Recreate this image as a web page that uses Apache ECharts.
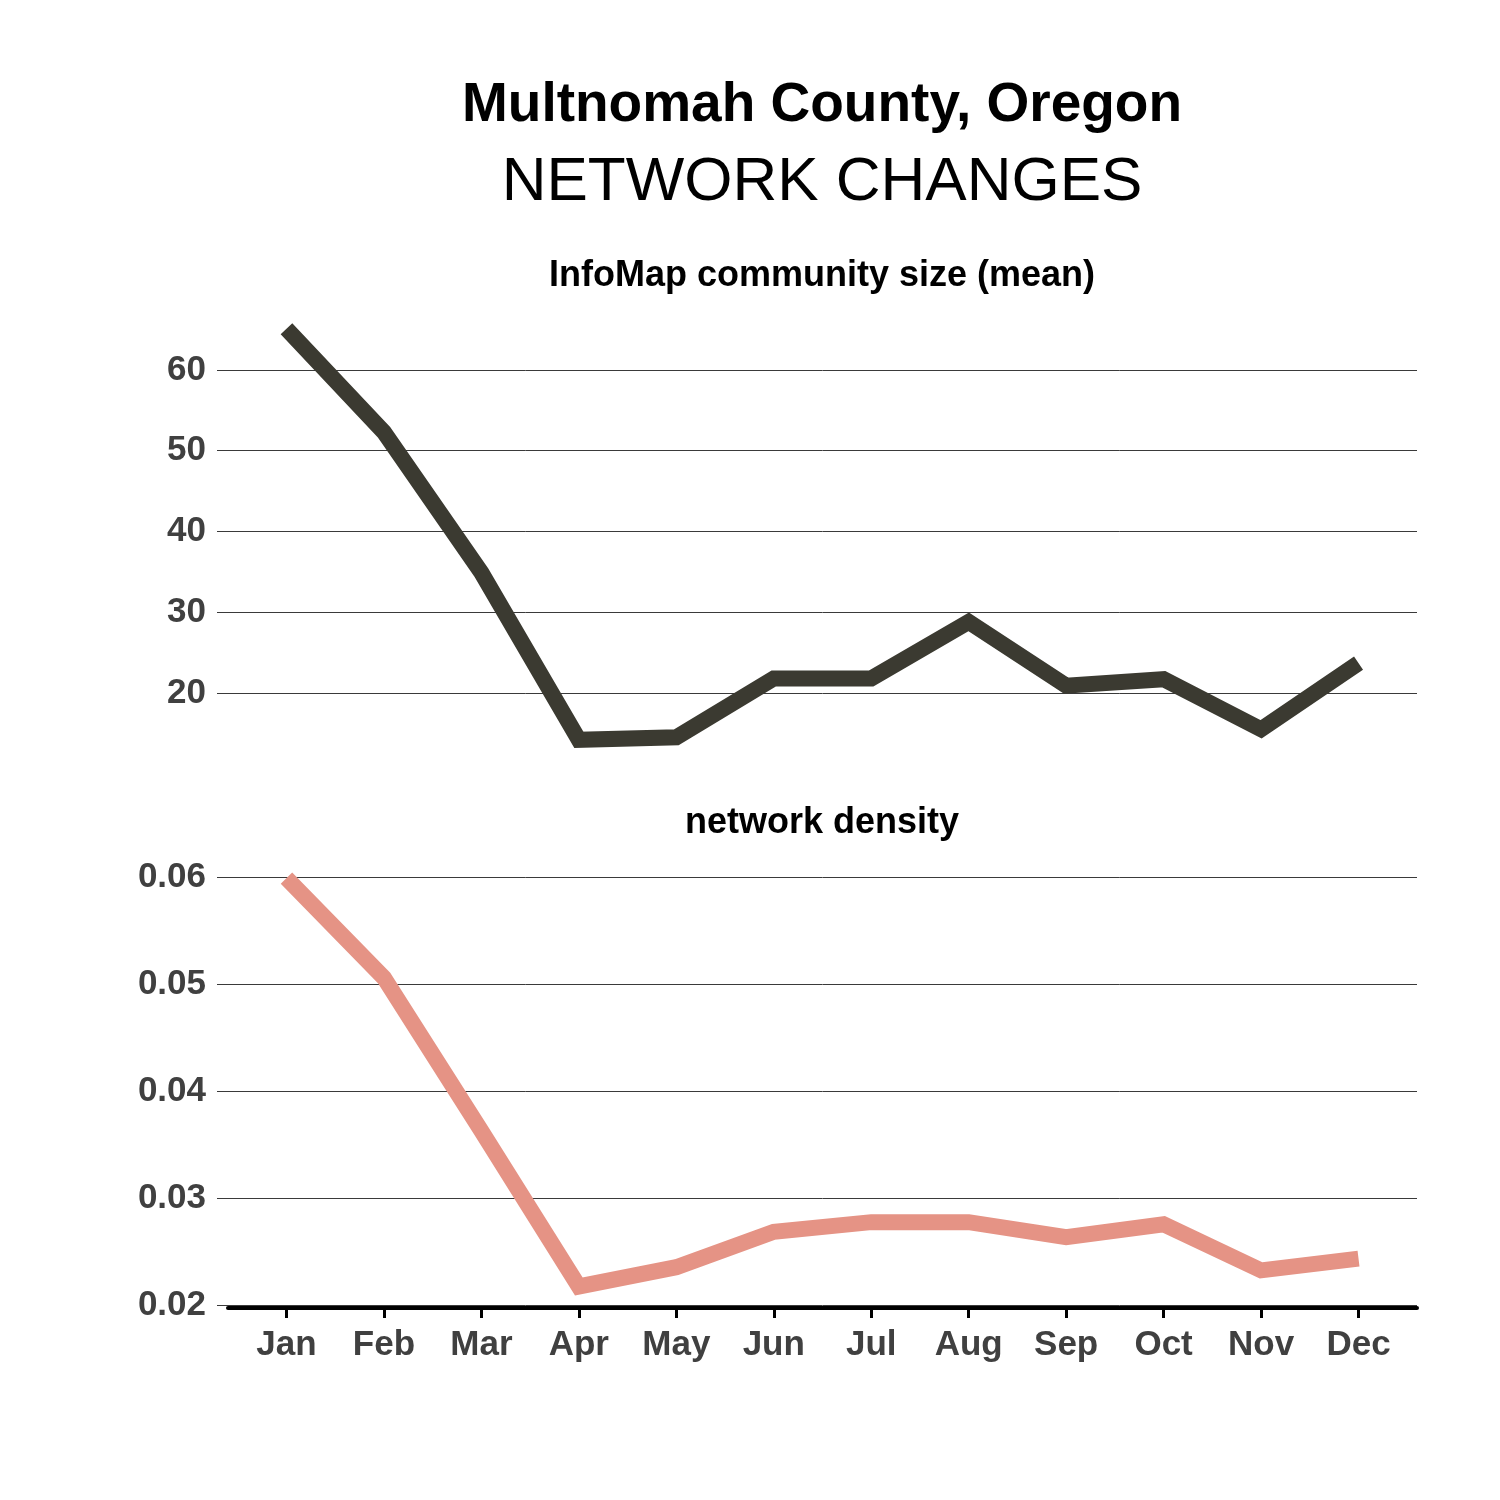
<!DOCTYPE html>
<html>
<head>
<meta charset="utf-8">
<script src="https://cdn.jsdelivr.net/npm/echarts@6/dist/echarts.min.js"></script>
<style>
  html, body { margin: 0; padding: 0; background: #ffffff; }
  #chart { width: 1500px; height: 1500px; }
</style>
</head>
<body>
<div id="chart"></div>
<script>
// ---- data ----
const months = ['Jan', 'Feb', 'Mar', 'Apr', 'May', 'Jun', 'Jul', 'Aug', 'Sep', 'Oct', 'Nov', 'Dec'];
const communitySize = [65.1, 52.3, 34.9, 14.2, 14.5, 21.8, 21.8, 28.8, 20.9, 21.7, 15.5, 23.7];
const networkDensity = [0.0599, 0.0506, 0.0363, 0.0218, 0.0236, 0.0269, 0.0278, 0.0278, 0.0264, 0.0276, 0.0233, 0.0244];
const sizeTicks = [20, 30, 40, 50, 60];
const densityTicks = [0.02, 0.03, 0.04, 0.05, 0.06];
const monthPositions = months.map((m, i) => i + 1);

const FONT = '"Liberation Sans", Arial, Helvetica, sans-serif';
const LABEL_COLOR = '#404040';
const GRID_COLOR = '#3a3a3a';

const chart = echarts.init(document.getElementById('chart'), null, { renderer: 'canvas' });

function yAxisCfg(gridIndex, min, max, ticks, fmt) {
  return {
    type: 'value',
    gridIndex: gridIndex,
    min: min,
    max: max,
    axisLine: { show: false },
    axisTick: { show: true, length: 11, customValues: ticks, lineStyle: { color: GRID_COLOR, width: 1 } },
    axisLabel: {
      customValues: ticks,
      formatter: fmt,
      margin: 22,
      padding: [7, 0, 0, 0],
      color: LABEL_COLOR,
      fontFamily: FONT,
      fontWeight: 'bold',
      fontSize: 35
    },
    splitLine: { show: true, lineStyle: { color: GRID_COLOR, width: 1 } }
  };
}

const option = {
  backgroundColor: '#ffffff',
  animation: false,
  title: [
    {
      text: 'Multnomah County, Oregon',
      left: 822, top: 106, padding: 0,
      textAlign: 'center', textVerticalAlign: 'middle',
      textStyle: { fontFamily: FONT, fontWeight: 'bold', fontSize: 55, color: '#000000' }
    },
    {
      text: 'NETWORK CHANGES',
      left: 822, top: 183, padding: 0,
      textAlign: 'center', textVerticalAlign: 'middle',
      textStyle: { fontFamily: FONT, fontWeight: 'normal', fontSize: 62, color: '#000000' }
    },
    {
      text: 'InfoMap community size (mean)',
      left: 822, top: 276, padding: 0,
      textAlign: 'center', textVerticalAlign: 'middle',
      textStyle: { fontFamily: FONT, fontWeight: 'bold', fontSize: 36, color: '#000000' }
    },
    {
      text: 'network density',
      left: 822, top: 823, padding: 0,
      textAlign: 'center', textVerticalAlign: 'middle',
      textStyle: { fontFamily: FONT, fontWeight: 'bold', fontSize: 36, color: '#000000' }
    }
  ],
  grid: [
    { left: 228, right: 83, top: 309, height: 453, containLabel: false },
    { left: 228, right: 83, top: 857, height: 451, containLabel: false }
  ],
  xAxis: [
    {
      type: 'value', gridIndex: 0, min: 0.4, max: 12.6,
      axisLine: { show: false }, axisTick: { show: false },
      axisLabel: { show: false }, splitLine: { show: false }
    },
    {
      type: 'value', gridIndex: 1, min: 0.4, max: 12.6,
      axisLine: { show: true, lineStyle: { color: '#000000', width: 4 } },
      axisTick: { show: true, length: 10, customValues: monthPositions, lineStyle: { color: '#000000', width: 3 } },
      axisLabel: {
        customValues: monthPositions,
        formatter: function (v) { return months[Math.round(v) - 1]; },
        margin: 20,
        color: LABEL_COLOR,
        fontFamily: FONT,
        fontWeight: 'bold',
        fontSize: 35
      },
      splitLine: { show: false }
    }
  ],
  yAxis: [
    yAxisCfg(0, 11.45, 67.55, sizeTicks, function (v) { return String(Math.round(v)); }),
    yAxisCfg(1, 0.01979, 0.06187, densityTicks, function (v) { return v.toFixed(2); })
  ],
  series: [
    {
      name: 'InfoMap community size (mean)',
      type: 'line',
      xAxisIndex: 0, yAxisIndex: 0,
      data: communitySize.map((v, i) => [monthPositions[i], v]),
      showSymbol: false, symbol: 'none',
      lineStyle: { color: '#3b3a31', width: 16, cap: 'butt', join: 'miter' },
      z: 3
    },
    {
      name: 'network density',
      type: 'line',
      xAxisIndex: 1, yAxisIndex: 1,
      data: networkDensity.map((v, i) => [monthPositions[i], v]),
      showSymbol: false, symbol: 'none',
      lineStyle: { color: '#e59385', width: 16, cap: 'butt', join: 'miter' },
      z: 3
    }
  ]
};

chart.setOption(option);
</script>
</body>
</html>
